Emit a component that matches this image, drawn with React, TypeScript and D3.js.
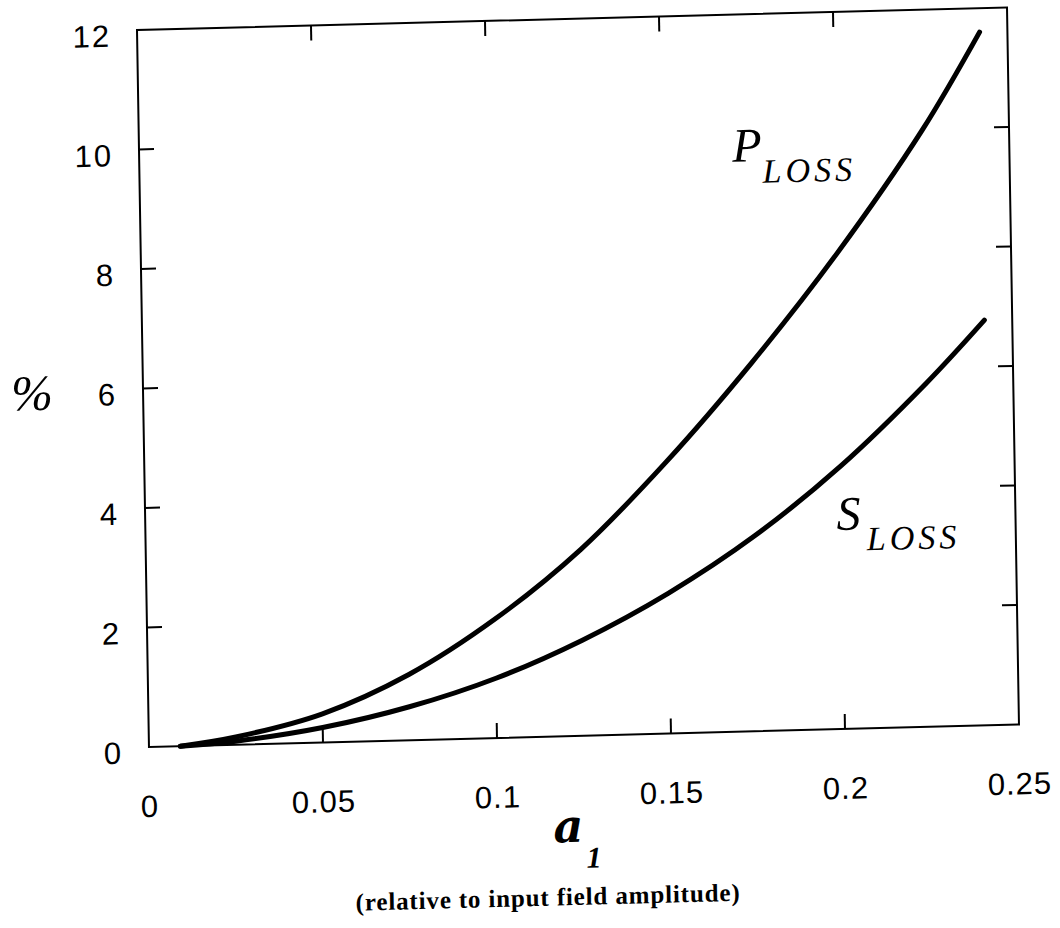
import * as d3 from "d3";

// amplitude a1 (relative to input field amplitude)
const aValues = [0.009, 0.025, 0.05, 0.075, 0.1, 0.125, 0.15, 0.175, 0.2, 0.225, 0.242];
// loss in %
const pLoss = [0, 0.13, 0.48, 1.1, 1.99, 3.12, 4.55, 6.17, 7.96, 9.98, 11.6];
const sLoss = [0, 0.06, 0.25, 0.56, 1.0, 1.6, 2.35, 3.27, 4.4, 5.75, 6.78];

const xTickLabels = [0, 0.05, 0.1, 0.15, 0.2, 0.25];
const yTickLabels = [0, 2, 4, 6, 8, 10, 12];

const W = 870;
const H = 717;

const sans = "'Liberation Sans', Arial, sans-serif";
const serif = "'Liberation Serif', 'Times New Roman', serif";

const App = () => {
  const x = d3.scaleLinear().domain([0, 0.25]).range([0, W]);
  const y = d3.scaleLinear().domain([0, 12]).range([H, 0]);

  const line = d3
    .line<number>()
    .x((_, i) => x(aValues[i]))
    .y((d) => y(d))
    .curve(d3.curveCatmullRom);

  const innerX = xTickLabels.filter((t) => t > 0 && t < 0.25);
  const innerY = yTickLabels.filter((t) => t > 0 && t < 12);
  const tickLen = 15;

  // the scanned page is a little skewed, so the whole plot is too
  return (
    <svg
      width={1060}
      height={928}
      style={{ position: "absolute", left: 0, top: 0, background: "#fff" }}
    >
      <g transform="matrix(1,-0.0259,0.0167,1,137,30)">
        <rect x={0} y={0} width={W} height={H} fill="none" stroke="#000" strokeWidth={2} />

        {innerX.map((t) => (
          <g key={"xt" + t}>
            <line x1={x(t)} x2={x(t)} y1={H} y2={H - tickLen} stroke="#000" strokeWidth={2} />
            <line x1={x(t)} x2={x(t)} y1={0} y2={tickLen} stroke="#000" strokeWidth={2} />
          </g>
        ))}
        {innerY.map((t) => (
          <g key={"yt" + t}>
            <line x1={0} x2={tickLen} y1={y(t)} y2={y(t)} stroke="#000" strokeWidth={2} />
            <line x1={W} x2={W - tickLen} y1={y(t)} y2={y(t)} stroke="#000" strokeWidth={2} />
          </g>
        ))}

        {xTickLabels.map((t) => (
          <text
            key={"xl" + t}
            x={x(t)}
            y={H + 70}
            textAnchor="middle"
            fontFamily={sans}
            fontSize={31}
            letterSpacing={1}
          >
            {t}
          </text>
        ))}
        {yTickLabels.map((t) => (
          <text
            key={"yl" + t}
            x={-26}
            y={y(t) + 16}
            textAnchor="end"
            fontFamily={sans}
            fontSize={31}
            letterSpacing={2}
          >
            {t}
          </text>
        ))}

        <path d={line(pLoss) ?? ""} fill="none" stroke="#000" strokeWidth={5} strokeLinecap="round" />
        <path d={line(sLoss) ?? ""} fill="none" stroke="#000" strokeWidth={5} strokeLinecap="round" />

        <text x={593} y={147} fontFamily={serif} fontStyle="italic" fontSize={48}>
          P
        </text>
        <text x={623} y={169} fontFamily={serif} fontStyle="italic" fontSize={34} letterSpacing={4}>
          LOSS
        </text>
        <text x={691} y={518} fontFamily={serif} fontStyle="italic" fontSize={48}>
          S
        </text>
        <text x={721} y={539} fontFamily={serif} fontStyle="italic" fontSize={34} letterSpacing={4}>
          LOSS
        </text>

        <text x={-111} y={377} textAnchor="middle" fontFamily={serif} fontStyle="italic" fontSize={50}>
          %
        </text>

        <text x={418} y={823} textAnchor="middle" fontFamily="'DejaVu Serif', serif" fontStyle="italic" fontWeight="bold" fontSize={46}>
          a
        </text>
        <text x={443} y={849} textAnchor="middle" fontFamily={serif} fontStyle="italic" fontWeight="bold" fontSize={30}>
          1
        </text>

        <text
          x={396}
          y={886}
          textAnchor="middle"
          fontFamily={serif}
          fontWeight="bold"
          fontSize={25}
          textLength={384}
          lengthAdjust="spacing"
        >
          (relative to input field amplitude)
        </text>
      </g>
    </svg>
  );
};

export default App;
